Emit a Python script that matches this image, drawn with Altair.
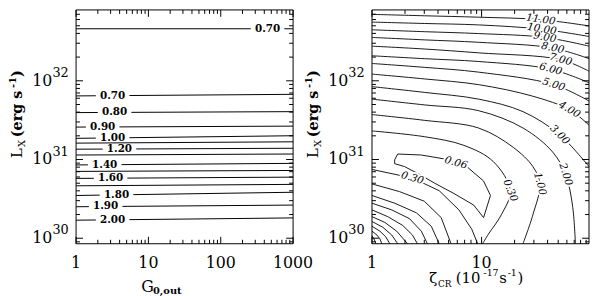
import altair as alt
import pandas as pd
import numpy as np

SERIF = "DejaVu Serif"
W, H = 220, 237           # each panel's plot area
XR0 = 300                 # left edge of the right panel (pixels from left panel's edge)
LMIN, LMAX = 29.93, 32.90  # log10 L_X shown
GMAX = 3.0                 # log10 G0,out: 0..3
ZMAX = 1.98                # log10 zeta_CR: 0..1.98

# ---------------- left panel (contours vs G0,out) ----------------
left_levels = ["0.70", "0.70", "0.80", "0.90", "1.00", "1.10", "1.20", "1.30",
               "1.40", "1.50", "1.60", "1.70", "1.80", "1.90", "2.00"]
left_logL_at_G1 = [32.661, 31.808, 31.596, 31.412, 31.269, 31.208, 31.131, 31.057,
                   30.931, 30.849, 30.760, 30.666, 30.543, 30.400, 30.229]
left_logL_at_G1000 = [32.661, 31.828, 31.608, 31.424, 31.302, 31.225, 31.143, 31.070,
                      30.951, 30.861, 30.776, 30.684, 30.584, 30.421, 30.258]
left_label_logG = [2.647, 0.505, 0.532, 0.368, 0.505, None, 0.600, None,
                   0.396, None, 0.477, None, 0.559, 0.409, 0.505]
HALF_GAP = 0.232   # half width of the label gap, in decades of G

# ---------------- right panel (contours vs zeta_CR) ----------------
# smooth upper family: (log10 zeta, log10 L_X)
r11_z = [0, 0.477, 0.973, 1.541, 1.98]
r11_L = [32.844, 32.826, 32.808, 32.777, 32.697]
r10_z = [0, 0.477, 0.973, 1.550, 1.98]
r10_L = [32.746, 32.728, 32.710, 32.655, 32.563]
r9_z = [0, 0.477, 0.973, 1.577, 1.98]
r9_L = [32.648, 32.624, 32.600, 32.551, 32.440]
r8_z = [0, 0.477, 0.973, 1.649, 1.98]
r8_L = [32.551, 32.520, 32.489, 32.416, 32.281]
r7_z = [0, 0.477, 0.973, 1.721, 1.98]
r7_L = [32.440, 32.404, 32.355, 32.269, 32.122]
r6_z = [0, 0.477, 0.973, 1.631, 1.98]
r6_L = [32.318, 32.281, 32.245, 32.147, 31.975]
r5_z = [0, 0.477, 0.973, 1.658, 1.98]
r5_L = [32.220, 32.171, 32.110, 31.951, 31.743]
r4_z = [0, 0.477, 0.973, 1.468, 1.802, 1.98]
r4_L = [32.085, 32.024, 31.951, 31.804, 31.633, 31.437]
r3_z = [0, 0.477, 0.973, 1.378, 1.712, 1.98]
r3_L = [31.926, 31.853, 31.767, 31.608, 31.314, 30.910]
r2_z = [0, 0.477, 0.973, 1.378, 1.649, 1.766, 1.829, 1.856]
r2_L = [31.767, 31.694, 31.620, 31.400, 31.094, 30.812, 30.421, 29.931]
r1_z = [0, 0.477, 0.973, 1.288, 1.468, 1.532, 1.468, 1.378]
r1_L = [31.571, 31.498, 31.400, 31.155, 30.910, 30.690, 30.298, 29.931]
r03u_z = [0, 0.477, 0.838, 1.108, 1.261, 1.180, 1.063, 1.009]
r03u_L = [31.363, 31.290, 31.180, 30.972, 30.604, 30.298, 30.054, 29.931]

# jagged lower family
r03l_z = [0, 0.369, 0.613, 0.793, 0.910, 0.964]
r03l_L = [30.874, 30.764, 30.604, 30.360, 30.115, 29.931]
r006_z = [0.207, 0.234, 0.450, 0.658, 0.865, 1.018, 1.081, 1.018, 0.928, 0.748,
          0.568, 0.432, 0.297, 0.207, 0.207]
r006_L = [30.996, 31.070, 31.057, 31.008, 30.910, 30.727, 30.543, 30.262, 30.421,
          30.568, 30.702, 30.812, 30.910, 30.947, 30.996]
low1_z = [0, 0.252, 0.477, 0.631, 0.721]
low1_L = [30.690, 30.592, 30.470, 30.262, 29.931]
low2_z = [0, 0.207, 0.405, 0.541, 0.613]
low2_L = [30.543, 30.445, 30.323, 30.152, 29.931]
low3_z = [0, 0.180, 0.342, 0.450, 0.505]
low3_L = [30.445, 30.360, 30.249, 30.090, 29.931]
low4_z = [0, 0.144, 0.279, 0.369, 0.414]
low4_L = [30.360, 30.274, 30.164, 30.041, 29.931]
low5_z = [0, 0.117, 0.225, 0.324]
low5_L = [30.274, 30.201, 30.090, 29.931]
low6_z = [0, 0.099, 0.180, 0.234]
low6_L = [30.213, 30.139, 30.041, 29.931]
low7_z = [0, 0.072, 0.126, 0.162]
low7_L = [30.152, 30.090, 30.017, 29.931]
low8_z = [0, 0.045, 0.072, 0.090]
low8_L = [30.090, 30.041, 29.992, 29.931]
low9_z = [0, 0.018, 0.036]
low9_L = [30.029, 29.992, 29.931]

right_label_text = ["11.00", "10.00", "9.00", "8.00", "7.00", "6.00", "5.00", "4.00",
                    "3.00", "2.00", "1.00", "0.30", "0.06", "0.30"]
right_label_logz = [1.541, 1.550, 1.577, 1.649, 1.721, 1.631, 1.658, 1.802,
                    1.712, 1.766, 1.532, 1.261, 0.766, 0.369]
right_label_logL = [32.777, 32.655, 32.551, 32.416, 32.269, 32.147, 31.951, 31.633,
                    31.314, 30.812, 30.690, 30.604, 30.959, 30.764]
right_label_angle = [8, 9, 10, 12, 15, 15, 18, 30, 45, 72, 75, 68, 16, 16]

# ---------------- tick values ----------------
y_major = [30, 31, 32]
g_major = [0, 1, 2, 3]
z_major = [0, 1]
g_labels = ["1", "10", "100", "1000"]
z_labels = ["1", "10"]

# ================= build tables =================
one = pd.DataFrame({"a": [0]})


def curve(zs, Ls, cid):
    return pd.DataFrame({"z": [10 ** v for v in zs], "L": [10 ** v for v in Ls],
                         "i": list(range(len(zs))), "c": cid})


rows = []
lab_rows = []
for k, (a, b, lg, lev) in enumerate(zip(left_logL_at_G1, left_logL_at_G1000,
                                        left_label_logG, left_levels)):
    yat = lambda g, a=a, b=b: a + (b - a) * g / GMAX
    segs = [(0, GMAX)] if lg is None else [(0, lg - HALF_GAP), (lg + HALF_GAP, GMAX)]
    for s, (g0, g1) in enumerate(segs):
        rows.append(dict(G=10 ** g0, L=10 ** yat(g0), seg=f"{k}-{s}", i=0))
        rows.append(dict(G=10 ** g1, L=10 ** yat(g1), seg=f"{k}-{s}", i=1))
    if lg is not None:
        lab_rows.append(dict(G=10 ** lg, L=10 ** yat(lg), t=lev))
df_left = pd.DataFrame(rows)
df_left_lab = pd.DataFrame(lab_rows)

df_smooth = pd.concat([curve(r11_z, r11_L, "11"), curve(r10_z, r10_L, "10"),
                       curve(r9_z, r9_L, "9"), curve(r8_z, r8_L, "8"),
                       curve(r7_z, r7_L, "7"), curve(r6_z, r6_L, "6"),
                       curve(r5_z, r5_L, "5"), curve(r4_z, r4_L, "4"),
                       curve(r3_z, r3_L, "3"), curve(r2_z, r2_L, "2"),
                       curve(r1_z, r1_L, "1"), curve(r03u_z, r03u_L, "03u")])
df_jag = pd.concat([curve(r03l_z, r03l_L, "03l"), curve(r006_z, r006_L, "006"),
                    curve(low1_z, low1_L, "l1"), curve(low2_z, low2_L, "l2"),
                    curve(low3_z, low3_L, "l3"), curve(low4_z, low4_L, "l4"),
                    curve(low5_z, low5_L, "l5"), curve(low6_z, low6_L, "l6"),
                    curve(low7_z, low7_L, "l7"), curve(low8_z, low8_L, "l8"),
                    curve(low9_z, low9_L, "l9")])
df_rlab = pd.DataFrame({"z": [10 ** v for v in right_label_logz],
                        "L": [10 ** v for v in right_label_logL],
                        "t": right_label_text, "a": right_label_angle})

y_minor = [n + np.log10(k) for n in range(29, 33) for k in range(2, 10)
           if LMIN < n + np.log10(k) < LMAX]
g_minor = [n + np.log10(k) for n in range(0, 3) for k in range(2, 10)]
z_minor = [n + np.log10(k) for n in range(0, 2) for k in range(2, 10)
           if n + np.log10(k) < ZMAX]

df_ymaj = pd.DataFrame({"L": [10 ** v for v in y_major], "e": [str(v) for v in y_major]})
df_ymin = pd.DataFrame({"L": [10 ** v for v in y_minor]})
df_gmaj = pd.DataFrame({"G": [10 ** v for v in g_major], "t": g_labels})
df_gmin = pd.DataFrame({"G": [10 ** v for v in g_minor]})
df_zmaj = pd.DataFrame({"z": [10 ** v for v in z_major], "t": z_labels})
df_zmin = pd.DataFrame({"z": [10 ** v for v in z_minor]})

# ================= scales =================
gs = alt.Scale(type="log", domain=[1, 1000], range=[0, W], nice=False)
zs = alt.Scale(type="log", domain=[1, 10 ** ZMAX], range=[XR0, XR0 + W], nice=False)
ys = alt.Scale(type="log", domain=[10 ** LMIN, 10 ** LMAX], nice=False)
Xg = alt.X("G:Q", scale=gs, axis=None)
Xz = alt.X("z:Q", scale=zs, axis=None)
Yl = alt.Y("L:Q", scale=ys, axis=None)

layers = []

# frames
for x0 in (0, XR0):
    layers.append(alt.Chart(one).mark_rect(fillOpacity=0, stroke="black", strokeWidth=1)
                  .encode(x=alt.value(x0), x2=alt.value(x0 + W), y=alt.value(0), y2=alt.value(H)))

# left contours
layers.append(alt.Chart(df_left).mark_line(color="black", strokeWidth=1)
              .encode(x=Xg, y=Yl, detail="seg:N", order=alt.Order("i:Q")))
layers.append(alt.Chart(df_left_lab).mark_text(font=SERIF, fontSize=10.5, fontWeight="bold",
                                               align="center", baseline="middle", color="black")
              .encode(x=Xg, y=Yl, text="t:N"))

# right contours
layers.append(alt.Chart(df_smooth).mark_line(color="black", strokeWidth=0.9, interpolate="catmull-rom")
              .encode(x=Xz, y=Yl, detail="c:N", order=alt.Order("i:Q")))
layers.append(alt.Chart(df_jag).mark_line(color="black", strokeWidth=0.9)
              .encode(x=Xz, y=Yl, detail="c:N", order=alt.Order("i:Q")))
for halo in (True, False):
    kw = dict(color="white", stroke="white", strokeWidth=4, strokeJoin="round") if halo else dict(color="black")
    layers.append(alt.Chart(df_rlab).mark_text(font=SERIF, fontSize=10.5, fontStyle="italic",
                                               align="center", baseline="middle", **kw)
                  .encode(x=Xz, y=Yl, text="t:N", angle=alt.Angle("a:Q", scale=None)))

# ticks
for x0 in (0, XR0):
    for df, ln in ((df_ymaj, 7), (df_ymin, 4)):
        layers.append(alt.Chart(df).mark_rule(color="black", strokeWidth=1)
                      .encode(y=Yl, x=alt.value(x0), x2=alt.value(x0 + ln)))
        layers.append(alt.Chart(df).mark_rule(color="black", strokeWidth=1)
                      .encode(y=Yl, x=alt.value(x0 + W - ln), x2=alt.value(x0 + W)))
for df, X in ((df_gmaj, Xg), (df_gmin, Xg), (df_zmaj, Xz), (df_zmin, Xz)):
    ln = 7 if "t" in df.columns else 4
    layers.append(alt.Chart(df).mark_rule(color="black", strokeWidth=1)
                  .encode(x=X, y=alt.value(H), y2=alt.value(H - ln)))
    layers.append(alt.Chart(df).mark_rule(color="black", strokeWidth=1)
                  .encode(x=X, y=alt.value(0), y2=alt.value(ln)))

# tick labels
for x0 in (0, XR0):
    layers.append(alt.Chart(df_ymaj).mark_text(text="10", font=SERIF, fontSize=16, align="right",
                                               baseline="middle", color="black")
                  .encode(y=Yl, x=alt.value(x0 - 24)))
    layers.append(alt.Chart(df_ymaj).mark_text(font=SERIF, fontSize=13, align="left",
                                               baseline="middle", dy=-8, color="black")
                  .encode(y=Yl, x=alt.value(x0 - 24), text="e:N"))
for df, X in ((df_gmaj, Xg), (df_zmaj, Xz)):
    layers.append(alt.Chart(df).mark_text(font=SERIF, fontSize=16, align="center",
                                          baseline="alphabetic", color="black")
                  .encode(x=X, y=alt.value(262), text="t:N"))


def txt(s, x, y, size, weight="normal", angle=0):
    return alt.Chart(one).mark_text(text=s, font=SERIF, fontSize=size, fontWeight=weight,
                                    align="left", baseline="alphabetic", angle=angle,
                                    color="black").encode(x=alt.value(x), y=alt.value(y))


# axis titles
layers += [txt("G", 66, 286, 16), txt("0,out", 78, 288, 10, "bold")]
layers += [txt("ζ", XR0 + 58, 277, 15), txt("CR", XR0 + 67, 281, 9),
           txt("(10", XR0 + 85, 277, 15), txt("-17", XR0 + 113, 270, 9.5),
           txt("s", XR0 + 129, 277, 15), txt("-1", XR0 + 137.5, 270, 9.5),
           txt(")", XR0 + 147.5, 277, 15)]
for x0 in (0, XR0):
    layers += [txt("L", x0 - 55, 150, 15, angle=270),
               txt("X", x0 - 52, 139, 10, angle=270),
               txt("(erg s", x0 - 55, 129, 14.5, "bold", angle=270),
               txt("-1", x0 - 61, 79, 10, "bold", angle=270),
               txt(")", x0 - 55, 68, 14.5, "bold", angle=270)]

chart = (alt.layer(*layers)
         .resolve_scale(x="independent")
         .properties(width=XR0 + W, height=H,
                     padding={"left": 69, "top": 0, "right": 1, "bottom": 51},
                     autosize=alt.AutoSizeParams(type="none"))
         .configure_view(strokeWidth=0))

chart.save("out.html", embed_options={"renderer": "svg", "actions": False})
